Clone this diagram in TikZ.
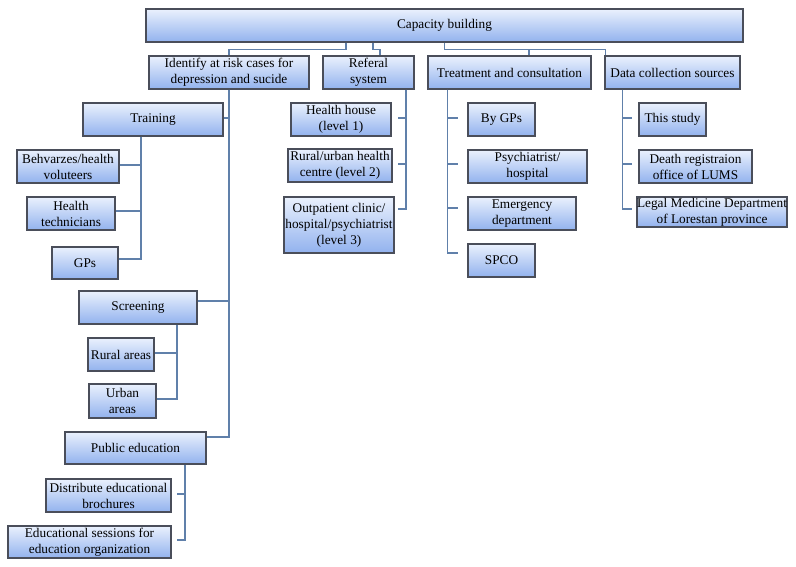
\documentclass[tikz,border=0pt]{standalone}
\usepackage{fontspec}
\setmainfont{Liberation Serif}
\usetikzlibrary{positioning, calc}
\definecolor{boxTop}{RGB}{234, 241, 253}
\definecolor{boxBottom}{RGB}{146, 178, 238}
\definecolor{boxBorder}{RGB}{74, 78, 90}
\definecolor{linkBlue}{RGB}{96, 128, 170}

\begin{document}
\begin{tikzpicture}[x=1pt, y=1pt,
            box/.style={rectangle, draw=boxBorder, line width=1.5pt, top color=boxTop, bottom color=boxBottom,
                        minimum height=33, inner sep=0pt, align=center, font=\fontsize{13.3}{16}\selectfont},
            link/.style={draw=linkBlue, line width=1.4pt}
        ]
            \useasboundingbox (0,0) rectangle (796,-567);

            % Root
            \node[box, minimum width=597] (cap) at (444.5,-25.5) {Capacity building};

            % Main branches
            \node[box, minimum width=160] (ident) at (229,-72.5) {Identify at risk cases for\\depression and sucide};
            \node[box, minimum width=91] (refer) at (368.5,-72.5) {Referal\\system};
            \node[box, minimum width=163] (treat) at (509.5,-72.5) {Treatment and consultation};
            \node[box, minimum width=135] (datac) at (672.5,-72.5) {Data collection sources};

            % Identify: training
            \node[box, minimum width=140] (train) at (153,-119.5) {Training};
            \node[box, minimum width=102] (behv) at (68,-166.5) {Behvarzes/health\\voluteers};
            \node[box, minimum width=88] (htech) at (71,-213.5) {Health\\technicians};
            \node[box, minimum width=66, minimum height=32] (gps) at (85,-263) {GPs};

            % Identify: screening
            \node[box, minimum width=118] (screen) at (138,-307.5) {Screening};
            \node[box, minimum width=66] (rural) at (121,-354.5) {Rural areas};
            \node[box, minimum width=67, minimum height=34] (urban) at (122.5,-401) {Urban\\areas};

            % Identify: public education
            \node[box, minimum width=141, minimum height=32] (pubed) at (135.5,-448) {Public education};
            \node[box, minimum width=125] (distr) at (108.5,-495.5) {Distribute educational\\brochures};
            \node[box, minimum width=163, minimum height=32] (sess) at (89.5,-542) {Educational sessions for\\education organization};

            % Referal levels
            \node[box, minimum width=100] (hhouse) at (341,-119.5) {Health house\\(level 1)};
            \node[box, minimum width=104] (rucentre) at (340,-165.5) {Rural/urban health\\centre (level 2)};
            \node[box, minimum width=110, minimum height=56] (outp) at (339,-225) {Outpatient clinic/\\hospital/psychiatrist\\(level 3)};

            % Treatment options
            \node[box, minimum width=67] (bygps) at (501.5,-119.5) {By GPs};
            \node[box, minimum width=119] (psych) at (527.5,-166.5) {Psychiatrist/\\hospital};
            \node[box, minimum width=108] (emerg) at (522,-213.5) {Emergency\\department};
            \node[box, minimum width=67] (spco) at (501.5,-260.5) {SPCO};

            % Data sources
            \node[box, minimum width=67] (study) at (672.5,-119.5) {This study};
            \node[box, minimum width=113] (death) at (695.5,-166.5) {Death registraion\\office of LUMS};
            \node[box, minimum width=150, minimum height=30] (legal) at (712,-212) {Legal Medicine Department\\of Lorestan province};

            % Links from root
            \draw[link] ([xshift=-98.5]cap.south) -- ++(0,-7) -| (ident.north);
            \draw[link] ([xshift=-71.5]cap.south) -- ++(0,-7) -| ([xshift=11.5]refer.north);
            \draw[link] (cap.south) -- ++(0,-7) -| ([xshift=19.5]treat.north);
            \draw[link] (cap.south) -- ++(0,-7) -| ([xshift=1]datac.north west);

            % Links in identify branch
            \draw[link] (ident.south) |- ([yshift=1.5]train.east);
            \draw[link] (ident.south) |- ([yshift=6.5]screen.east);
            \draw[link] (ident.south) |- ([yshift=11]pubed.east);
            \draw[link] ([xshift=-12]train.south) |- ([yshift=1.5]behv.east);
            \draw[link] ([xshift=-12]train.south) |- ([yshift=2.5]htech.east);
            \draw[link] ([xshift=-12]train.south) |- ([yshift=4]gps.east);
            \draw[link] ([xshift=39]screen.south) |- ([yshift=1.5]rural.east);
            \draw[link] ([xshift=39]screen.south) |- ([yshift=2]urban.east);
            \draw[link, shorten >=5] ([xshift=49.5]pubed.south) |- ([yshift=1.5]distr.east);
            \draw[link, shorten >=5] ([xshift=49.5]pubed.south) |- ([yshift=2]sess.east);

            % Links in referal branch
            \draw[link, shorten >=6] ([xshift=37.5]refer.south) |- ([yshift=1.5]hhouse.east);
            \draw[link, shorten >=5] ([xshift=37.5]refer.south) |- ([yshift=1.5]rucentre.east);
            \draw[link, shorten >=3] ([xshift=37.5]refer.south) |- ([yshift=16]outp.east);

            % Links in treatment branch
            \draw[link, shorten >=9] ([xshift=20]treat.south west) |- ([yshift=1.5]bygps.west);
            \draw[link, shorten >=9] ([xshift=20]treat.south west) |- ([yshift=2.5]psych.west);
            \draw[link, shorten >=9] ([xshift=20]treat.south west) |- ([yshift=5.5]emerg.west);
            \draw[link, shorten >=9] ([xshift=20]treat.south west) |- ([yshift=7.5]spco.west);

            % Links in data branch
            \draw[link, shorten >=6] ([xshift=18]datac.south west) |- ([yshift=1.5]study.west);
            \draw[link, shorten >=6] ([xshift=18]datac.south west) |- ([yshift=2.5]death.west);
            \draw[link, shorten >=4] ([xshift=18]datac.south west) |- ([yshift=3]legal.west);
        \end{tikzpicture}
\end{document}
